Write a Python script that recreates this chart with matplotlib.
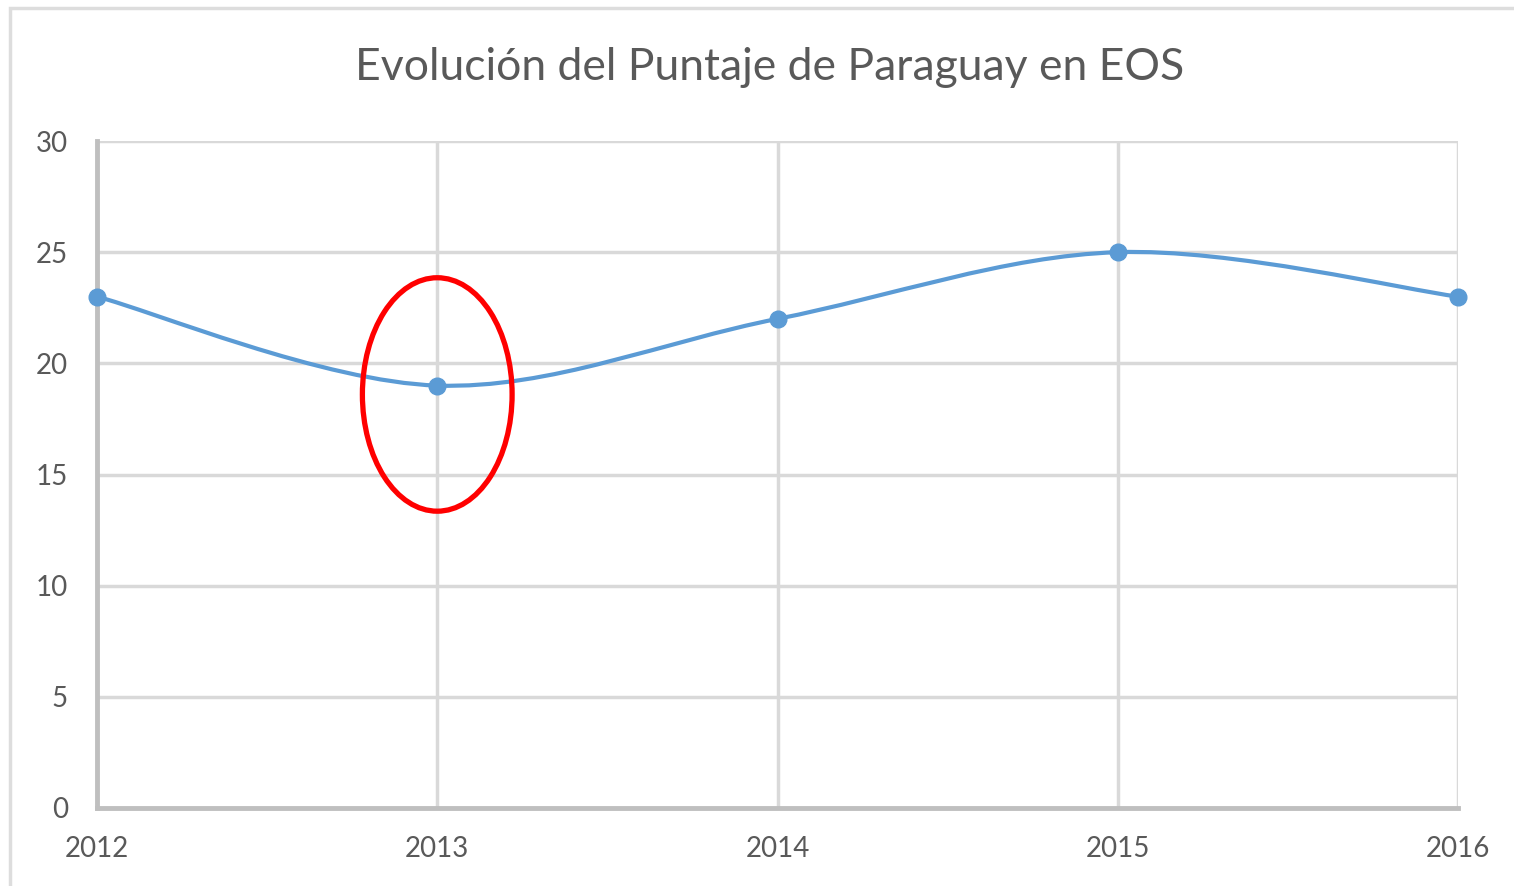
import matplotlib.pyplot as plt
import numpy as np
from matplotlib.path import Path
from matplotlib.patches import PathPatch, Ellipse, Rectangle

years = [2012, 2013, 2014, 2015, 2016]
scores = [23, 19, 22, 25, 23]
y_ticks = [0, 5, 10, 15, 20, 25, 30]
title = "Evolución del Puntaje de Paraguay en EOS"

text_color = "#595959"
line_color = "#5B9BD5"
grid_color = "#D9D9D9"

plt.rcParams['font.family'] = ['Lato', 'DejaVu Sans']

fig = plt.figure(figsize=(15.14, 8.86), dpi=100)
ax = fig.add_axes([97 / 1514, 1 - 808 / 886, (1458 - 97) / 1514, (808 - 141) / 886])

# outer chart frame (partially cropped)
fig.patches.append(Rectangle((10 / 1514, -0.1), 1.2, 1 - 8 / 886 + 0.1,
                             transform=fig.transFigure, fill=False,
                             edgecolor="#DDDDDD", lw=2.5))

ax.set_xlim(years[0], years[-1])
ax.set_ylim(0, 30)
ax.set_xticks(years)
ax.set_yticks(y_ticks)
ax.set_xticklabels([str(y) for y in years])
ax.tick_params(length=0, labelsize=20, labelcolor=text_color)
ax.tick_params(axis='x', pad=20)
ax.tick_params(axis='y', pad=21)

for y in y_ticks[1:]:
    ax.axhline(y, color=grid_color, lw=2.5, zorder=1)
for x in years[1:]:
    ax.axvline(x, color=grid_color, lw=2.5, zorder=1)

for s in ['top', 'right']:
    ax.spines[s].set_visible(False)
for s in ['left', 'bottom']:
    ax.spines[s].set_color("#BFBFBF")
    ax.spines[s].set_linewidth(3.5)

# smoothed line (Excel-style Bezier through the points)
pts = np.column_stack([years, scores]).astype(float)
verts = [tuple(pts[0])]
codes = [Path.MOVETO]
for i in range(len(pts) - 1):
    p0 = pts[i - 1] if i > 0 else pts[i]
    p1 = pts[i]
    p2 = pts[i + 1]
    p3 = pts[i + 2] if i + 2 < len(pts) else pts[i + 1]
    c1 = p1 + (p2 - p0) / 6
    c2 = p2 - (p3 - p1) / 6
    verts += [tuple(c1), tuple(c2), tuple(p2)]
    codes += [Path.CURVE4] * 3
ax.add_patch(PathPatch(Path(verts, codes), fill=False, edgecolor=line_color,
                       lw=3, zorder=3, clip_on=False))
ax.plot(years, scores, linestyle='none', marker='o', markersize=12,
        color=line_color, zorder=4, clip_on=False)

ax.add_patch(Ellipse((2013, 18.6), 0.44, 10.5, fill=False, edgecolor="#FF0000",
                     lw=3.8, zorder=5))

fig.text(770 / 1514, 1 - 68 / 886, title, ha='center', va='center',
         fontsize=32, color=text_color)

fig.savefig("out.png", dpi=100)
